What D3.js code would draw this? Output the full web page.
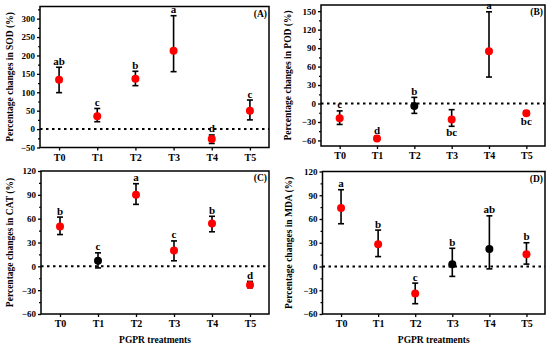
<!DOCTYPE html>
<html>
<head>
<meta charset="utf-8">
<script src="https://cdnjs.cloudflare.com/ajax/libs/d3/7.8.5/d3.min.js"></script>
<style>
  body { margin: 0; background: #fff; }
  svg text { font-family: "Liberation Serif", "Times New Roman", serif; font-weight: bold; fill: #000; }
</style>
</head>
<body>
<svg id="chart" width="550" height="347"></svg>
<script>
// treatments on the x axis
var treatments = ['T0', 'T1', 'T2', 'T3', 'T4', 'T5'];

// (A) SOD
var sodMean = [134, 35, 137, 213, -27, 50];
var sodHigh = [168, 56, 157, 308, -16, 79];
var sodLow = [99, 20, 118, 156, -39, 25];
var sodLetters = ['ab', 'c', 'b', 'a', 'd', 'c'];
var sodNs = [];
var sodLettersBelow = [];

// (B) POD
var podMean = [-24, -57, -4, -26, 85, -16];
var podHigh = [-12, -53, 10, -10, 149, -12];
var podLow = [-34, -60, -16, -37, 43, -19];
var podLetters = ['c', 'd', 'b', 'bc', 'a', 'bc'];
var podNs = ['T2'];
var podLettersBelow = ['T3', 'T5'];

// (C) CAT
var catMean = [50, 7, 90, 20, 54, -23.5];
var catHigh = [62, 17, 104, 32, 63, -19];
var catLow = [40, -2, 78, 7, 43.5, -27];
var catLetters = ['b', 'c', 'a', 'c', 'b', 'd'];
var catNs = ['T1'];
var catLettersBelow = [];

// (D) MDA
var mdaMean = [74, 28, -34, 3, 22, 15.5];
var mdaHigh = [97, 46, -21, 23, 64, 30];
var mdaLow = [54, 12.5, -47, -12.5, -3, 3];
var mdaLetters = ['a', 'b', 'c', 'b', 'ab', 'b'];
var mdaNs = ['T3', 'T4'];
var mdaLettersBelow = [];

// y ticks
var sodTicks = [-50, 0, 50, 100, 150, 200, 250, 300];
var podTicks = [-60, -30, 0, 30, 60, 90, 120, 150];
var catTicks = [-60, -30, 0, 30, 60, 90, 120];
var mdaTicks = [-60, -30, 0, 30, 60, 90, 120];

var xTitle = 'PGPR treatments';

function rows(mean, high, low, letters, ns, below) {
  return treatments.map(function(t, i) {
    return {t: t, mean: mean[i], high: high[i], low: low[i], letter: letters[i],
            ns: ns.indexOf(t) >= 0, below: below.indexOf(t) >= 0};
  });
}

var panels = [
  {tag: '(A)', title: 'Percentage changes  in SOD (%)', data: rows(sodMean, sodHigh, sodLow, sodLetters, sodNs, sodLettersBelow),
   ticks: sodTicks, domain: [-50, 333], box: {l: 40, r: 269, t: 6.5, b: 147.5}, titleX: 10, showXTitle: false},
  {tag: '(B)', title: 'Percentage changes in POD (%)', data: rows(podMean, podHigh, podLow, podLetters, podNs, podLettersBelow),
   ticks: podTicks, domain: [-69, 160], box: {l: 321, r: 545, t: 5, b: 146}, titleX: 288, showXTitle: false},
  {tag: '(C)', title: 'Percentage changes in CAT (%)', data: rows(catMean, catHigh, catLow, catLetters, catNs, catLettersBelow),
   ticks: catTicks, domain: [-60, 120], box: {l: 41, r: 269, t: 171, b: 314}, titleX: 10, showXTitle: true},
  {tag: '(D)', title: 'Percentage changes in MDA (%)', data: rows(mdaMean, mdaHigh, mdaLow, mdaLetters, mdaNs, mdaLettersBelow),
   ticks: mdaTicks, domain: [-60, 120], box: {l: 322.5, r: 545, t: 171.5, b: 314}, titleX: 289, showXTitle: true}
];

var svg = d3.select('#chart');
svg.append('rect').attr('width', 550).attr('height', 347).attr('fill', '#fff');

panels.forEach(function(p) {
  var b = p.box;
  var x = d3.scalePoint().domain(treatments).range([b.l, b.r]).padding(0.5);
  var y = d3.scaleLinear().domain(p.domain).range([b.b, b.t]);
  var g = svg.append('g');

  // minor ticks halfway between majors
  var step = p.ticks[1] - p.ticks[0];
  var minor = p.ticks.map(function(v) { return v + step / 2; }).filter(function(v) { return v < p.domain[1]; });
  g.append('g')
    .attr('transform', 'translate(' + b.l + ',0)')
    .call(d3.axisLeft(y).tickValues(minor).tickSize(2).tickFormat(''))
    .call(function(a) { a.select('.domain').remove(); a.selectAll('line').attr('stroke-width', 1.2); });

  // y axis
  var ya = g.append('g')
    .attr('transform', 'translate(' + b.l + ',0)')
    .call(d3.axisLeft(y).tickValues(p.ticks).tickSize(3).tickPadding(2).tickFormat(function(d) { return d < 0 ? '\u2212' + (-d) : d; }));
  ya.select('.domain').remove();
  ya.selectAll('line').attr('stroke-width', 1.3);
  ya.selectAll('text').attr('font-size', 9).style('font-family', '"Liberation Serif", serif');

  // x axis
  var xa = g.append('g')
    .attr('transform', 'translate(0,' + b.b + ')')
    .call(d3.axisBottom(x).tickSize(3).tickPadding(3));
  xa.select('.domain').remove();
  xa.selectAll('line').attr('stroke-width', 1.3);
  xa.selectAll('text').attr('font-size', 10).style('font-family', '"Liberation Serif", serif');

  // frame
  g.append('rect')
    .attr('x', b.l).attr('y', b.t).attr('width', b.r - b.l).attr('height', b.b - b.t)
    .attr('fill', 'none').attr('stroke', '#000').attr('stroke-width', 1.5);

  // zero line
  g.append('line')
    .attr('x1', b.l).attr('x2', b.r).attr('y1', y(0)).attr('y2', y(0))
    .attr('stroke', '#000').attr('stroke-width', 2).attr('stroke-dasharray', '2.5,3.5');

  // error bars
  var eb = g.selectAll('.eb').data(p.data).enter().append('g');
  eb.append('line')
    .attr('x1', function(d) { return x(d.t); }).attr('x2', function(d) { return x(d.t); })
    .attr('y1', function(d) { return y(d.high); }).attr('y2', function(d) { return y(d.low); })
    .attr('stroke', '#000').attr('stroke-width', 1.6);
  ['high', 'low'].forEach(function(k) {
    eb.append('line')
      .attr('x1', function(d) { return x(d.t) - 3; }).attr('x2', function(d) { return x(d.t) + 3; })
      .attr('y1', function(d) { return y(d[k]); }).attr('y2', function(d) { return y(d[k]); })
      .attr('stroke', '#000').attr('stroke-width', 1.6);
  });

  // points
  g.selectAll('.pt').data(p.data).enter().append('circle')
    .attr('cx', function(d) { return x(d.t); })
    .attr('cy', function(d) { return y(d.mean); })
    .attr('r', 4)
    .attr('fill', function(d) { return d.ns ? '#000' : '#f00'; });

  // significance letters
  g.selectAll('.lt').data(p.data).enter().append('text')
    .attr('x', function(d) { return x(d.t); })
    .attr('y', function(d) { return d.below ? y(d.low) + 10 : y(d.high) - 2.5; })
    .attr('text-anchor', 'middle')
    .attr('font-size', 11)
    .text(function(d) { return d.letter; });

  // panel tag
  g.append('text').attr('x', b.r - 2).attr('y', b.t + 10).attr('text-anchor', 'end')
    .attr('font-size', 9.5).text(p.tag);

  // y title
  g.append('text')
    .attr('transform', 'translate(' + p.titleX + ',' + ((b.t + b.b) / 2) + ') rotate(-90)')
    .attr('text-anchor', 'middle').attr('dy', '0.35em')
    .attr('font-size', 9.5).text(p.title);

  if (p.showXTitle) {
    g.append('text').attr('x', (b.l + b.r) / 2).attr('y', 343)
      .attr('text-anchor', 'middle').attr('font-size', 9.5).text(xTitle);
  }
});
</script>
</body>
</html>
